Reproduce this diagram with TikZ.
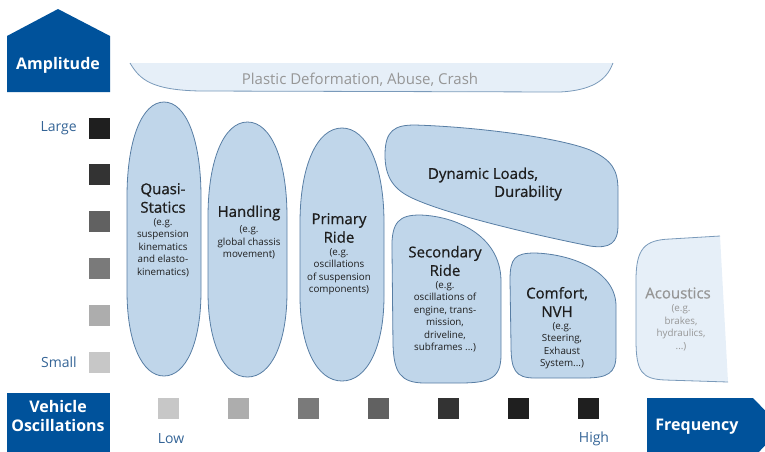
\documentclass[tikz,border=0pt]{standalone}
\usepackage{fontspec}
\setmainfont{Open Sans}
\newfontfamily\semibold[FakeBold=0.7]{Open Sans}
\usetikzlibrary{positioning}
\definecolor{fhblue}{RGB}{0,82,155}
\definecolor{blobfill}{RGB}{192,214,234}
\definecolor{blobline}{RGB}{88,126,164}
\definecolor{palefill}{RGB}{230,239,248}
\definecolor{paleline}{RGB}{122,154,186}
\definecolor{labelblue}{RGB}{52,100,150}
\definecolor{inktext}{RGB}{30,30,30}
\definecolor{fadetext}{RGB}{150,150,150}
\tikzset{
  blob/.style  = {fill=blobfill, draw=blobline, line width=0.8pt},
  head/.style  = {font=\fontsize{16}{19}\selectfont\bfseries, text=white, align=center},
  title/.style = {font=\fontsize{15}{18.5}\selectfont\semibold, text=inktext, align=center, inner sep=0pt},
  note/.style  = {font=\fontsize{9.8}{12.5}\selectfont, text=inktext, align=center, inner sep=0pt},
  tick/.style  = {font=\fontsize{14}{16}\selectfont, text=labelblue},
  sq/.style    = {minimum size=21pt, inner sep=0pt}
}
\newcommand{\capsule}[4]{% left, top, right, bottom
  \draw[blob] (#1,{#2+95}) .. controls (#1,{#2+38}) and ({(#1+#3)/2-0.3*(#3-#1)},#2) .. ({(#1+#3)/2},#2)
    .. controls ({(#1+#3)/2+0.3*(#3-#1)},#2) and (#3,{#2+38}) .. (#3,{#2+95}) -- (#3,{#4-85})
    .. controls (#3,{#4-34}) and ({(#1+#3)/2+0.3*(#3-#1)},#4) .. ({(#1+#3)/2},#4)
    .. controls ({(#1+#3)/2-0.3*(#3-#1)},#4) and (#1,{#4-34}) .. (#1,{#4-85}) -- cycle;}

\begin{document}
\begin{tikzpicture}[x=1pt,y=-1pt]
  \useasboundingbox (0,0) rectangle (765,451);
  % axes boxes
  \fill[fhblue] (7,92) -- (7,36) -- (58,9) -- (110,36) -- (110,92) -- cycle;
  \node[head] (amp) at (58,65) {Amplitude};
  \fill[fhblue] (7,393) rectangle (110,460);
  \node[head] (osc) at (58,416) {Vehicle\\Oscillations};
  \fill[fhblue] (647,398) -- (753,398) -- (782,428) -- (753,458) -- (647,458) -- cycle;
  \node[head] (freq) at (697,427) {Frequency};
  % amplitude scale
  \foreach \g [count=\i] in {88,80,62,52,32,22}
    \node[sq, fill=black!\g] (a\i) at (99,{128+46.8*(\i-1)}) {};
  \node[tick, left=8pt of a1] (large) {Large};
  \node[tick, left=8pt of a6] (small) {Small};
  % frequency scale
  \foreach \g [count=\i] in {22,32,52,62,80,88,88}
    \node[sq, fill=black!\g] (f\i) at ({98+70*\i},408) {};
  \node[tick] (low) at (171,439) {Low};
  \node[tick] (high) at (594,439) {High};
  % plastic deformation band
  \fill[palefill] (130,63) .. controls (140,80) and (152,90) .. (200,91) -- (560,92)
    .. controls (598,90) and (608,76) .. (613,63) -- cycle;
  \draw[paleline, line width=0.8pt] (130,63) .. controls (140,80) and (152,90) .. (200,91)
    -- (560,92) .. controls (598,90) and (608,76) .. (613,63);
  \node[font=\fontsize{15}{17}\selectfont, text=fadetext] (crash) at (360,80)
    {Plastic Deformation, Abuse, Crash};
  % low frequency regions
  \capsule{127}{102}{201}{376}
  \capsule{208}{122}{287}{377}
  \capsule{300}{128}{384}{381}
  \node[title] (qs) at (163,198) {Quasi-\\Statics};
  \node[note, below=5pt of qs] (qs-note) {(e.g.\\suspension\\kinematics\\and elasto-\\kinematics)};
  \node[title] (hd) at (249,213) {Handling};
  \node[note, below=5pt of hd] (hd-note) {(e.g.\\global chassis\\movement)};
  \node[title] (pr) at (339,228) {Primary\\Ride};
  \node[note, below=5pt of pr] (pr-note) {(e.g.\\oscillations\\of suspension\\components)};
  % durability
  \draw[blob] (385,155) .. controls (385,130) and (395,125) .. (415,125)
    .. controls (480,127) and (560,138) .. (590,150) .. controls (612,160) and (618,170) .. (618,190)
    -- (618,225) .. controls (618,243) and (610,249) .. (590,246)
    .. controls (520,232) and (440,212) .. (410,197) .. controls (392,188) and (385,175) .. cycle;
  \node[title] (dl) at (483,175) {Dynamic Loads,};
  \node[title] (dur) at (528,193) {Durability};
  % higher frequency regions
  \draw[blob] (392,250) .. controls (391,221) and (400,215) .. (420,215)
    .. controls (455,216) and (500,235) .. (501,280) -- (501,355)
    .. controls (501,378) and (490,383) .. (460,383) -- (425,383)
    .. controls (400,383) and (394,372) .. (393,345) -- cycle;
  \node[title] (sr) at (445,261) {Secondary\\Ride};
  \node[note, below=5pt of sr] (sr-note) {(e.g.\\oscillations of\\engine, trans-\\mission,\\driveline,\\subframes ...)};
  \draw[blob] (510,280) .. controls (510,258) and (515,253) .. (535,253)
    .. controls (570,254) and (615,270) .. (616,305) -- (616,355)
    .. controls (616,373) and (608,378) .. (585,378) -- (535,378)
    .. controls (515,378) and (511,370) .. (511,345) -- cycle;
  \node[title] (nvh) at (557,302) {Comfort,\\NVH};
  \node[note, below=5pt of nvh, xshift=5pt] (nvh-note) {(e.g.\\Steering,\\Exhaust\\System...)};
  % acoustics
  \fill[palefill] (720,236) -- (670,239) .. controls (645,240) and (636,248) .. (636,280)
    -- (636,340) .. controls (636,372) and (642,379) .. (665,380) -- (728,382) -- cycle;
  \draw[paleline, line width=0.8pt] (720,236) -- (670,239) .. controls (645,240) and (636,248) .. (636,280)
    -- (636,340) .. controls (636,372) and (642,379) .. (665,380) -- (728,382);
  \node[title, text=fadetext] (ac) at (678,293) {Acoustics};
  \node[note, text=fadetext, below=6pt of ac, xshift=3pt] (ac-note) {(e.g.\\brakes,\\hydraulics,\\...)};
\end{tikzpicture}
\end{document}
